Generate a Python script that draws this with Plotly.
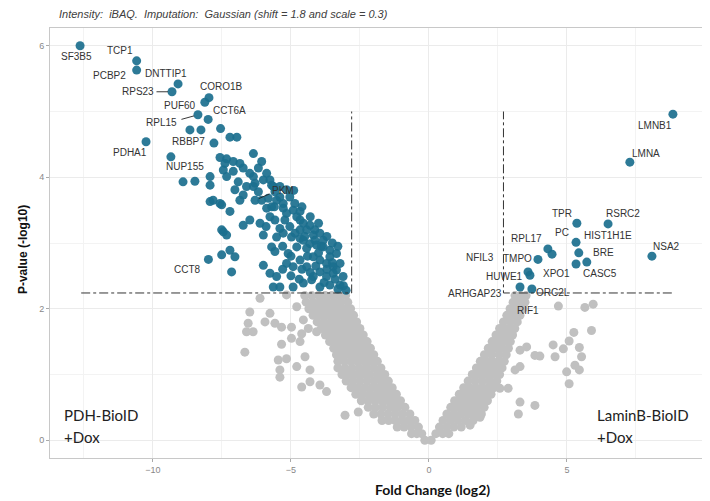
import plotly.graph_objects as go

# ---------------- data ----------------
# Significant proteins (blue), fold change (log2) and -log10 p-value
BLUE_FC = [
    -12.64, -10.59, -10.59, -9.09, -9.31, -7.97, -8.12, -8.37, -8.00, -8.66, -8.26,
    -7.55, -7.21, -6.96, -7.79, -10.25, -9.35, -6.36, -7.57, -7.33, -7.39, -7.09,
    -6.85, -6.73, -6.06, -6.18, -7.45, -7.33, -7.93, -7.93, -8.91, -8.48, -6.36,
    -6.49, -7.09, -5.88, -6.00, -5.76, -6.91, -6.30, -5.70, -6.61, -6.36, -5.64,
    -5.40, -5.16, -7.03, -6.18, -5.58, -6.73, -5.04, -6.85, -6.06, -5.82, -5.52,
    -7.82, -7.93, -7.57, -5.28, -4.86, -7.51, -5.88, -5.70, -5.28, -4.92, -7.21,
    -4.67, -5.16, -4.79, -5.76, -6.49, -5.58, -5.22, -4.67, -6.12, -4.55, -6.73,
    -4.31, -5.04, -5.40, -7.51, -4.67, -4.43, -4.13, -7.45, -7.33, -6.00, -4.19,
    -5.28, -3.95, -5.52, -4.98, -4.67, -4.55, -4.13, -3.83, -4.31, -4.07, -5.70,
    -4.79, -3.83, -4.43, -7.21, -3.59, -5.58, -5.10, -3.35, -7.51, -7.03, -4.19,
    -3.59, -7.99, -3.95, -4.67, -5.16, -3.71, -3.22, -6.00, -3.47, -4.43, -4.92,
    -3.35, -7.15, -3.95, -5.76, -3.47, -5.52, -4.19, -3.71, -3.11, -4.25, -4.55,
    -3.22, -3.59, -5.64, -5.40, -4.92, -3.95, -6.30,
    -4.00, -3.70, -3.40, -3.80, -4.30, -4.60, -4.40, -4.10, -3.50, -3.90, -4.50,
    -4.85, -3.10, -3.00, -3.30, -4.70, -5.00, -5.30, -5.00, -5.30, -5.90, -5.60,
    -5.40, -4.90, -4.60, -4.30, -4.00, -3.70, -3.50, -3.30,
    8.84, 7.28, 5.36, 6.49, 5.33, 8.08, 5.43, 5.33, 5.72, 4.31, 4.46, 3.95,
    3.59, 3.66, 3.30, 3.73,
]
BLUE_P = [
    6.00, 5.77, 5.63, 5.42, 5.30, 5.21, 5.14, 4.95, 4.88, 4.72, 4.72,
    4.74, 4.61, 4.61, 4.52, 4.54, 4.31, 4.36, 4.30, 4.28, 4.21, 4.24,
    4.21, 4.14, 4.24, 4.14, 4.11, 4.01, 4.01, 3.88, 3.93, 3.94, 4.01,
    4.06, 4.09, 4.06, 3.96, 3.96, 3.93, 3.91, 3.88, 3.86, 3.86, 3.86,
    3.86, 3.81, 3.81, 3.78, 3.78, 3.73, 3.70, 3.65, 3.65, 3.68, 3.65,
    3.65, 3.63, 3.60, 3.60, 3.60, 3.58, 3.53, 3.55, 3.53, 3.50, 3.48,
    3.48, 3.45, 3.40, 3.40, 3.35, 3.35, 3.35, 3.35, 3.30, 3.30, 3.27,
    3.27, 3.25, 3.22, 3.20, 3.20, 3.20, 3.20, 3.17, 3.12, 3.12, 3.12,
    3.15, 3.15, 3.09, 3.09, 3.07, 3.04, 3.04, 3.04, 2.99, 2.97, 2.94,
    2.94, 2.94, 2.92, 2.89, 2.89, 2.87, 2.84, 2.84, 2.82, 2.79, 2.79,
    2.79, 2.75, 2.74, 2.74, 2.69, 2.69, 2.69, 2.66, 2.64, 2.64, 2.64,
    2.59, 2.56, 2.56, 2.54, 2.54, 2.49, 2.49, 2.49, 2.49, 2.44, 2.39,
    2.36, 2.36, 2.33, 2.33, 2.33, 2.33, 3.65,
    2.85, 2.60, 2.45, 2.40, 2.55, 2.60, 2.80, 2.65, 2.70, 2.95, 3.10,
    3.15, 2.35, 2.28, 2.30, 2.45, 2.50, 2.60, 2.80, 2.95, 3.25, 3.55,
    3.70, 3.80, 3.55, 3.40, 3.30, 3.10, 3.00, 2.95,
    4.96, 4.23, 3.30, 3.29, 3.01, 2.80, 2.85, 2.68, 2.71, 2.91, 2.83, 2.75,
    2.56, 2.51, 2.33, 2.30,
]

# Non-significant proteins (grey): dense core, one row per -log10 p level
GREY_ROWS = [
    (0.0, [-0.15, 0.08]),
    (0.1, [-0.63, -0.44, -0.26, 0.25, 0.5, 0.72]),
    (0.2, [-1.15, -0.9, -0.64, -0.38, 0.38, 0.64, 0.9, 1.17]),
    (0.3, [-1.7, -1.46, -1.22, -0.98, -0.75, -0.51, 0.51, 0.78, 1.05, 1.32, 1.6]),
    (0.4, [-2.0, -1.74, -1.48, -1.22, -0.96, -0.69, 0.65, 0.9, 1.15, 1.4, 1.65, 1.9]),
    (0.5, [-2.2, -1.94, -1.67, -1.4, -1.14, -0.87, 0.79, 1.03, 1.27, 1.51, 1.75, 2.0]),
    (0.6, [-2.45, -2.2, -1.96, -1.72, -1.48, -1.25, -1.03, 0.93, 1.17, 1.41, 1.65, 1.89, 2.12]),
    (0.7, [-2.65, -2.4, -2.15, -1.9, -1.66, -1.42, -1.18, 1.1, 1.33, 1.56, 1.79, 2.02, 2.25]),
    (0.8, [-2.82, -2.57, -2.32, -2.07, -1.82, -1.58, -1.33, 1.26, 1.48, 1.7, 1.92, 2.14, 2.36]),
    (0.9, [-3.0, -2.75, -2.5, -2.24, -1.98, -1.72, -1.47, 1.42, 1.68, 1.94, 2.2, 2.46]),
    (1.0, [-3.15, -2.9, -2.65, -2.4, -2.14, -1.87, -1.6, 1.57, 1.82, 2.07, 2.32, 2.56]),
    (1.1, [-3.3, -3.04, -2.78, -2.52, -2.26, -2.0, -1.74, 1.72, 1.95, 2.18, 2.42, 2.65]),
    (1.2, [-3.3, -3.06, -2.82, -2.58, -2.34, -2.1, -1.87, 1.86, 2.08, 2.3, 2.52, 2.73]),
    (1.3, [-3.35, -3.12, -2.89, -2.66, -2.44, -2.22, -2.0, 2.01, 2.27, 2.54, 2.8]),
    (1.4, [-3.45, -3.22, -2.99, -2.77, -2.55, -2.33, -2.12, 2.15, 2.39, 2.63, 2.88]),
    (1.5, [-3.6, -3.37, -3.14, -2.91, -2.68, -2.46, -2.24, 2.29, 2.51, 2.73, 2.95]),
    (1.6, [-3.75, -3.52, -3.29, -3.06, -2.83, -2.6, -2.38, 2.43, 2.63, 2.83, 3.03]),
    (1.7, [-3.9, -3.66, -3.42, -3.18, -2.95, -2.72, -2.5, 2.56, 2.74, 2.93, 3.11]),
    (1.8, [-4.05, -3.8, -3.56, -3.32, -3.08, -2.85, -2.62, 2.7, 2.95, 3.2]),
    (1.9, [-4.2, -3.95, -3.7, -3.45, -3.2, -2.96, -2.73, 2.82, 3.06, 3.3]),
    (2.0, [-4.35, -4.1, -3.85, -3.6, -3.35, -3.1, -2.84, 2.94, 3.17, 3.4]),
    (2.1, [-4.45, -4.2, -3.95, -3.7, -3.45, -3.2, -2.94, 3.05, 3.27, 3.48]),
    (2.2, [-4.5, -4.25, -4.0, -3.76, -3.52, -3.27, -3.02, 3.12, 3.32, 3.52]),
]
# Non-significant proteins (grey): scattered points outside the core
GREY_FC = [
    -6.49, -5.76, -6.12, -6.55, -5.94, -5.58, -5.34, -6.61, -6.37, -4.98, -6.67,
    -5.34, -5.46, -5.16, -5.40, -5.40, -4.79, -4.61, -4.31, -3.95, -3.71, -3.04,
    -2.56, -4.67, -4.49, -4.31, -4.98, -4.61, -4.07, -4.55, -4.37, -4.79, -4.19,
    -3.95, -5.16,
    3.30, 3.54, 3.84, 4.02, 4.50, 4.57, 4.87, 5.08, 5.25, 5.45, 5.53, 5.29, 4.99,
    5.08, 5.45, 5.89, 5.95, 5.65, 4.69, 3.30, 3.84, 3.24, 2.39, 2.57, 2.87, 3.12,
    3.30, 1.85, 1.49,
]
GREY_P = [
    1.95, 1.93, 2.16, 1.78, 1.80, 1.78, 1.72, 1.65, 1.65, 1.72, 1.34,
    1.46, 1.22, 1.24, 1.07, 0.96, 1.12, 0.81, 0.89, 0.84, 0.74, 0.38,
    0.43, 1.50, 1.27, 1.07, 1.55, 1.62, 1.65, 1.83, 1.70, 2.03, 1.98,
    2.10, 2.21,
    1.37, 1.42, 1.29, 1.28, 1.45, 1.27, 1.39, 1.51, 1.64, 1.41, 1.27, 1.14, 1.04,
    0.86, 1.07, 1.67, 2.07, 2.02, 2.04, 0.58, 0.53, 0.40, 0.86, 0.79, 0.79, 1.07,
    1.12, 0.35, 0.23,
]

# Labelled genes
LABEL_GENE = ["SF3B5", "TCP1", "PCBP2", "DNTTIP1", "RPS23", "CORO1B", "PUF60",
              "CCT6A", "RPL15", "RBBP7", "PDHA1", "NUP155", "PKM", "CCT8",
              "LMNB1", "LMNA", "TPR", "RSRC2", "PC", "HIST1H1E", "BRE", "NSA2",
              "CASC5", "RPL17", "TMPO", "NFIL3", "XPO1", "HUWE1", "ARHGAP23",
              "ORC2L", "RIF1"]
LABEL_FC = [-12.64, -10.59, -10.59, -9.09, -9.31, -7.97, -8.12,
            -8.00, -8.37, -8.66, -10.25, -9.35, -6.30, -7.99,
            8.84, 7.28, 5.36, 6.49, 5.33, 5.33, 5.43, 8.08,
            5.72, 4.31, 3.95, 3.59, 4.46, 3.66, 3.30,
            3.73, 3.73]
LABEL_P = [6.00, 5.77, 5.63, 5.42, 5.30, 5.21, 5.14,
           4.88, 4.95, 4.72, 4.54, 4.31, 3.65, 2.75,
           4.96, 4.23, 3.30, 3.29, 3.01, 3.01, 2.85, 2.80,
           2.71, 2.91, 2.75, 2.56, 2.83, 2.51, 2.33,
           2.30, 2.30]

# Cut-offs
FC_CUT_LEFT = -2.8
FC_CUT_RIGHT = 2.7
P_CUT = 2.24
P_LINE_TOP = 5.0
H_LINE_START = -12.6
H_LINE_END = 8.8

X_TICKS = [-10, -5, 0, 5]
Y_TICKS = [0, 2, 4, 6]

TITLE = "Intensity:\u00a0 iBAQ.\u00a0 Imputation:\u00a0 Gaussian (shift = 1.8 and scale = 0.3)"

# ---------------- layout / style ----------------
BLUE = "#1b6f8e"
GREY = "#c0c0c0"
LABEL_FONT = dict(family="Liberation Sans, Arial, sans-serif", size=10, color="#333333")

# label placement (pixel offsets from point: dx right, dy up)
LABEL_OFFSET = [(-4, -11), (-17, 10), (-27, -5), (-12, 10), (-34, 0), (13, 11), (-25, -3),
                (21, 9), (-36, -8), (-1, -12), (-16, -11), (14, -10), (28, 10), (-21, -10),
                (-18, -11), (16, 9), (-15, 10), (15, 10), (-14, 10), (32, 7), (25, 0), (15, 10),
                (13, -11), (-21, 10), (-20, 1), (-48, 14), (4, -19), (-25, -1), (-45, -6),
                (21, -3), (-4, -21)]
# leader lines: gene -> (tail offset dx, dy up) in pixels from the point
LEADER = {"RPS23": (-17, 0), "RPL15": (-18, -5), "PKM": (16, 7)}

grey_fc = [x for p, xs in GREY_ROWS for x in xs] + GREY_FC
grey_p = [p for p, xs in GREY_ROWS for x in xs] + GREY_P

fig = go.Figure()
fig.add_trace(go.Scatter(x=grey_fc, y=grey_p, mode="markers",
                         marker=dict(color=GREY, size=9, line=dict(width=0)),
                         hoverinfo="skip", showlegend=False))
fig.add_trace(go.Scatter(x=BLUE_FC, y=BLUE_P, mode="markers",
                         marker=dict(color=BLUE, size=9, opacity=0.92, line=dict(width=0)),
                         hoverinfo="skip", showlegend=False))

# threshold lines
line_style = dict(color="#333333", width=1, dash="dashdot")
fig.add_trace(go.Scatter(x=[H_LINE_START, FC_CUT_LEFT, FC_CUT_LEFT], y=[P_CUT, P_CUT, P_LINE_TOP],
                         mode="lines", line=line_style, hoverinfo="skip", showlegend=False))
fig.add_trace(go.Scatter(x=[H_LINE_END, FC_CUT_RIGHT, FC_CUT_RIGHT], y=[P_CUT, P_CUT, P_LINE_TOP],
                         mode="lines", line=line_style, hoverinfo="skip", showlegend=False))

annotations = []
for g, x, y, (dx, dy) in zip(LABEL_GENE, LABEL_FC, LABEL_P, LABEL_OFFSET):
    annotations.append(dict(x=x, y=y, text=g, showarrow=False, xshift=dx, yshift=dy,
                            font=LABEL_FONT))
    if g in LEADER:
        lx, ly = LEADER[g]
        annotations.append(dict(x=x, y=y, text="", showarrow=True, ax=lx, ay=-ly,
                                arrowhead=0, arrowwidth=0.9, arrowcolor="#222222",
                                standoff=4))

annotations += [
    dict(xref="paper", yref="paper", x=0.011, y=1.0, yshift=14, text=TITLE, showarrow=False,
         xanchor="left", yanchor="middle",
         font=dict(family="Liberation Sans, Arial, sans-serif", size=11, color="#404040",
                   style="italic")),
    dict(xref="paper", yref="paper", x=0.585, y=-0.074, text="<b>Fold Change (log2)</b>",
         showarrow=False, xanchor="center", yanchor="middle",
         font=dict(family="Lato, sans-serif", size=14, color="#111111")),
    dict(xref="paper", yref="paper", x=-0.041, y=0.484, text="<b>P-value (-log10)</b>",
         showarrow=False, textangle=-90, xanchor="center", yanchor="middle",
         font=dict(family="Liberation Sans, Arial, sans-serif", size=12, color="#111111")),
    dict(xref="paper", yref="paper", x=0.018, y=0.100, text="PDH-BioID", showarrow=False,
         xanchor="left", yanchor="middle", font=dict(family="Lato, sans-serif", size=15, color="#222222")),
    dict(xref="paper", yref="paper", x=0.018, y=0.049, text="+Dox", showarrow=False,
         xanchor="left", yanchor="middle", font=dict(family="Lato, sans-serif", size=15, color="#222222")),
    dict(xref="paper", yref="paper", x=0.835, y=0.100, text="LaminB-BioID", showarrow=False,
         xanchor="left", yanchor="middle", font=dict(family="Lato, sans-serif", size=15, color="#222222")),
    dict(xref="paper", yref="paper", x=0.835, y=0.049, text="+Dox", showarrow=False,
         xanchor="left", yanchor="middle", font=dict(family="Lato, sans-serif", size=15, color="#222222")),
]

# remnant of neighbouring panel at the far left edge
shapes = [dict(type="line", xref="paper", yref="paper", x0=-0.072, x1=-0.072, y0=0.023, y1=0.86,
               line=dict(color="#cccccc", width=1))]
for yy in [0.03, 0.18, 0.33, 0.49, 0.64, 0.79]:
    shapes.append(dict(type="line", xref="paper", yref="paper", x0=-0.077, x1=-0.072, y0=yy, y1=yy,
                       line=dict(color="#dddddd", width=1)))

axis_common = dict(showline=True, mirror=True, linecolor="#c8c8c8", linewidth=1,
                   gridcolor="#ebebeb", gridwidth=1, zeroline=False,
                   ticks="outside", ticklen=3, tickcolor="#aaaaaa",
                   tickfont=dict(family="Liberation Sans, Arial, sans-serif", size=9, color="#888888"))

# the page body adds an 8 px margin, so the figure is sized/offset to compensate
fig.update_layout(
    width=702, height=493,
    margin=dict(l=42, r=7, t=20, b=43),
    paper_bgcolor="white", plot_bgcolor="white",
    xaxis=dict(range=[-13.73, 9.93], tickvals=X_TICKS,
               minor=dict(dtick=2.5, tick0=0, showgrid=True, gridcolor="#f3f3f3", gridwidth=0.6, ticks=""),
               **axis_common),
    yaxis=dict(range=[-0.27, 6.27], tickvals=Y_TICKS,
               minor=dict(dtick=1, tick0=0, showgrid=True, gridcolor="#f3f3f3", gridwidth=0.6, ticks=""),
               **axis_common),
    annotations=annotations,
    shapes=shapes,
)

fig.write_html("out.html")
